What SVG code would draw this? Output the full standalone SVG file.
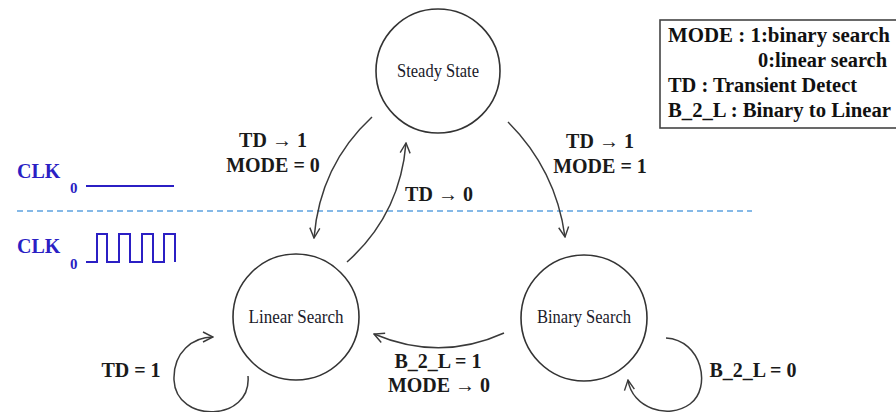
<svg xmlns="http://www.w3.org/2000/svg" width="896" height="412" viewBox="0 0 896 412">
  <style>
    .state { fill: #ffffff; stroke: #333333; stroke-width: 1.6; }
    .state-label { font-family: "Liberation Serif", "Times New Roman", serif; font-size: 18px; fill: #1a1a2a; text-anchor: middle; }
    .edge { fill: none; stroke: #3a3a3a; stroke-width: 1.5; }
    .edge-label { font-family: "Liberation Serif", "Times New Roman", serif; font-size: 20px; font-weight: bold; fill: #1a1a1a; text-anchor: middle; }
    .legend-text { font-family: "Liberation Serif", "Times New Roman", serif; font-size: 20px; font-weight: bold; fill: #111111; }
    .clk-text { font-family: "Liberation Serif", "Times New Roman", serif; font-size: 20px; font-weight: bold; fill: #2b1fc4; }
    .clk-sub { font-family: "Liberation Serif", "Times New Roman", serif; font-size: 15px; font-weight: bold; fill: #2b1fc4; }
    .clk-wave { fill: none; stroke: #2b1fc4; stroke-width: 2; }
  </style>
  <defs>
    <marker id="arrow" viewBox="0 0 12 12" refX="11" refY="6" markerWidth="12" markerHeight="12" markerUnits="userSpaceOnUse" orient="auto">
      <path d="M1,1 L11,6 L1,11" fill="none" stroke="#3a3a3a" stroke-width="1.4"/>
    </marker>
  </defs>

  <rect width="896" height="412" fill="#ffffff"/>

  <!-- legend -->
  <g id="legend">
    <rect x="660" y="20" width="250" height="108" fill="#ffffff" stroke="#444444" stroke-width="1.6"/>
    <text class="legend-text" x="668" y="42" textLength="222" lengthAdjust="spacingAndGlyphs">MODE :  1:binary search</text>
    <text class="legend-text" x="758" y="67" textLength="129" lengthAdjust="spacingAndGlyphs">0:linear search</text>
    <text class="legend-text" x="668" y="92" textLength="189" lengthAdjust="spacingAndGlyphs">TD : Transient Detect</text>
    <text class="legend-text" x="668" y="117" textLength="223" lengthAdjust="spacingAndGlyphs">B_2_L : Binary to Linear</text>
  </g>

  <!-- clock waveforms -->
  <g id="clk-idle">
    <text class="clk-text" x="17" y="178">CLK</text>
    <text class="clk-sub" x="70" y="193">0</text>
    <line class="clk-wave" x1="86" y1="186" x2="174" y2="186"/>
  </g>
  <line id="divider" x1="17" y1="211" x2="752" y2="211" stroke="#5ea3e0" stroke-width="1.4" stroke-dasharray="6 4"/>
  <g id="clk-active">
    <text class="clk-text" x="17" y="253">CLK</text>
    <text class="clk-sub" x="70" y="269">0</text>
    <path class="clk-wave" d="M86 262 H97 V234 H107 V262 H119 V234 H130 V262 H142 V234 H153 V262 H164 V234 H175 V262"/>
  </g>

  <!-- states -->
  <g id="steady-state">
    <circle class="state" cx="438" cy="71" r="62"/>
    <text class="state-label" x="438" y="77" textLength="82" lengthAdjust="spacingAndGlyphs">Steady State</text>
  </g>
  <g id="linear-search">
    <circle class="state" cx="296" cy="317" r="63"/>
    <text class="state-label" x="296" y="323" textLength="95" lengthAdjust="spacingAndGlyphs">Linear Search</text>
  </g>
  <g id="binary-search">
    <circle class="state" cx="584" cy="318" r="63"/>
    <text class="state-label" x="584" y="323" textLength="94" lengthAdjust="spacingAndGlyphs">Binary Search</text>
  </g>

  <!-- transitions -->
  <g id="connectors">
    <path class="edge" d="M372 117 Q320 165 314 238" marker-end="url(#arrow)"/>
    <path class="edge" d="M347 262 Q400 215 406 143" marker-end="url(#arrow)"/>
    <path class="edge" d="M508 122 Q556 170 565 237" marker-end="url(#arrow)"/>
    <path class="edge" d="M504 333 Q440 362 374 334" marker-end="url(#arrow)"/>
    <path class="edge" d="M248 376 C252 422 176 424 174 380 C173 352 193 337 213 337" marker-end="url(#arrow)"/>
    <path class="edge" d="M666 338 C702 340 712 388 690 404 C668 420 632 408 628 380" marker-end="url(#arrow)"/>
  </g>

  <!-- transition labels -->
  <g id="labels">
    <text class="edge-label" x="273" y="147">TD → 1</text>
    <text class="edge-label" x="273" y="172">MODE = 0</text>
    <text class="edge-label" x="600" y="148">TD → 1</text>
    <text class="edge-label" x="600" y="173">MODE = 1</text>
    <text class="edge-label" x="439" y="201">TD → 0</text>
    <text class="edge-label" x="438" y="368">B_2_L = 1</text>
    <text class="edge-label" x="439" y="392">MODE → 0</text>
    <text class="edge-label" x="131" y="377">TD = 1</text>
    <text class="edge-label" x="753" y="377">B_2_L = 0</text>
  </g>
</svg>
